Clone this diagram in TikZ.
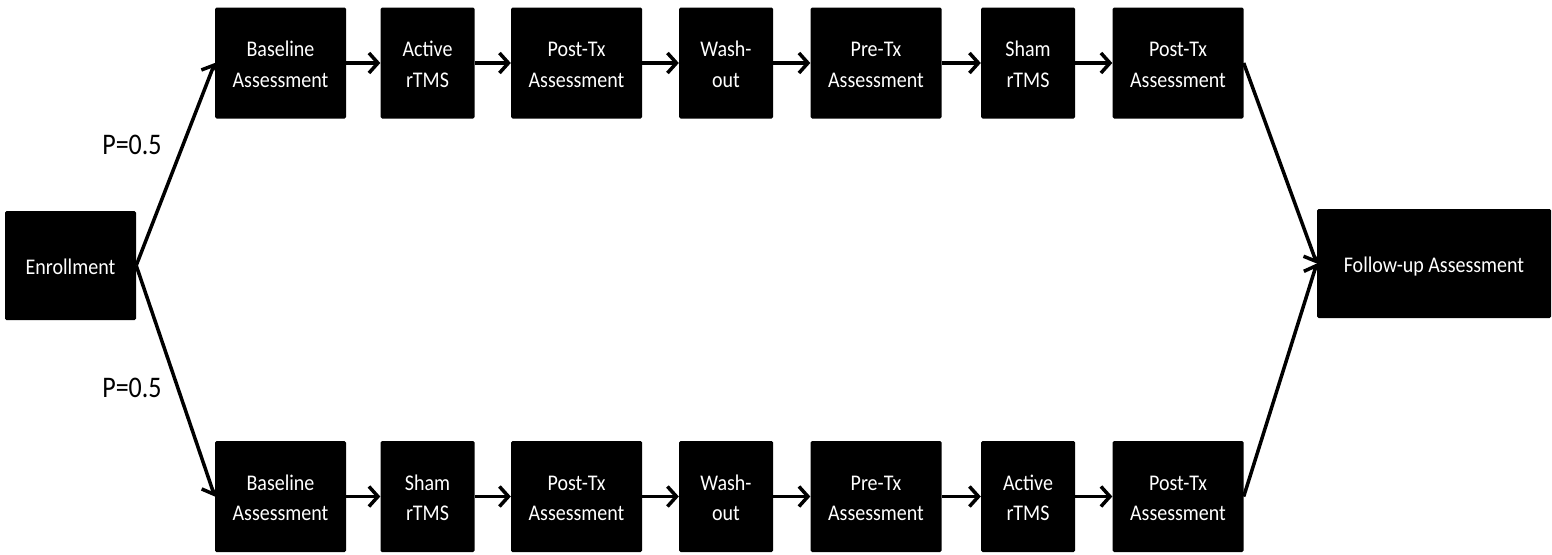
\documentclass[tikz,border=0pt]{standalone}
\usepackage{fontspec}
\usepackage{graphicx}
\setmainfont{Carlito}
\usetikzlibrary{arrows.meta}
\newcommand\stagefont{\fontsize{20}{27}\selectfont}
\newcommand\probfont{\fontsize{26}{30}\selectfont}
% slightly tall lettering for the stage labels, set a little below centre
\newcommand\stage[1]{\raisebox{-3pt}[\height][\depth]{\scalebox{1}[1.12]{\begin{tabular}{@{}c@{}}#1\end{tabular}}}}
\newcommand\prob[1]{\scalebox{1}[1.15]{#1}}
\tikzset{
  blk/.style={fill=black, text=white, rounded corners=1.5pt, inner sep=0pt,
              minimum height=111pt, align=center, font=\stagefont},
  wide/.style={blk, minimum width=131pt},
  narrow/.style={blk, minimum width=94pt},
  conn/.style={line width=3.5pt, -{Straight Barb[length=9pt,width=20pt]}},
  problabel/.style={font=\probfont, text=black, inner sep=0pt}
}
\begin{document}
\begin{tikzpicture}[x=1pt,y=-1pt]
\useasboundingbox (0,0) rectangle (1552,554);

% enrollment and follow-up
\node[blk, minimum width=131pt, minimum height=109pt] (enr) at (70.5,265.5) {\stage{Enrollment}};
\node[blk, minimum width=234pt, minimum height=109pt] (fu) at (1434,263.5) {\stage{Follow-up Assessment}};

% upper arm: active first
\node[wide]   (a1) at (280.5,63) {\stage{Baseline\\Assessment}};
\node[narrow] (a2) at (427.5,63) {\stage{Active\\rTMS}};
\node[wide]   (a3) at (576.5,63) {\stage{Post-Tx\\Assessment}};
\node[narrow] (a4) at (726,63)   {\stage{Wash-\\out}};
\node[wide]   (a5) at (876,63)   {\stage{Pre-Tx\\Assessment}};
\node[narrow] (a6) at (1028,63)  {\stage{Sham\\rTMS}};
\node[wide]   (a7) at (1178,63)  {\stage{Post-Tx\\Assessment}};

% lower arm: sham first
\node[wide]   (b1) at (280.5,496.5) {\stage{Baseline\\Assessment}};
\node[narrow] (b2) at (427.5,496.5) {\stage{Sham\\rTMS}};
\node[wide]   (b3) at (576.5,496.5) {\stage{Post-Tx\\Assessment}};
\node[narrow] (b4) at (726,496.5)   {\stage{Wash-\\out}};
\node[wide]   (b5) at (876,496.5)   {\stage{Pre-Tx\\Assessment}};
\node[narrow] (b6) at (1028,496.5)  {\stage{Active\\rTMS}};
\node[wide]   (b7) at (1178,496.5)  {\stage{Post-Tx\\Assessment}};

% randomisation labels
\node[problabel] (pa) at (132,145) {\prob{P=0.5}};
\node[problabel] (pb) at (132,388) {\prob{P=0.5}};

% connectors
\draw[conn] (enr.east) -- (a1.west);
\draw[conn] (enr.east) -- (b1.west);
\foreach \i/\j in {1/2,2/3,3/4,4/5,5/6,6/7}{
  \draw[conn] (a\i.east) -- (a\j.west);
  \draw[conn] (b\i.east) -- (b\j.west);
}
\draw[conn] (a7.east) -- (fu.west);
\draw[conn] (b7.east) -- (fu.west);
\end{tikzpicture}
\end{document}
